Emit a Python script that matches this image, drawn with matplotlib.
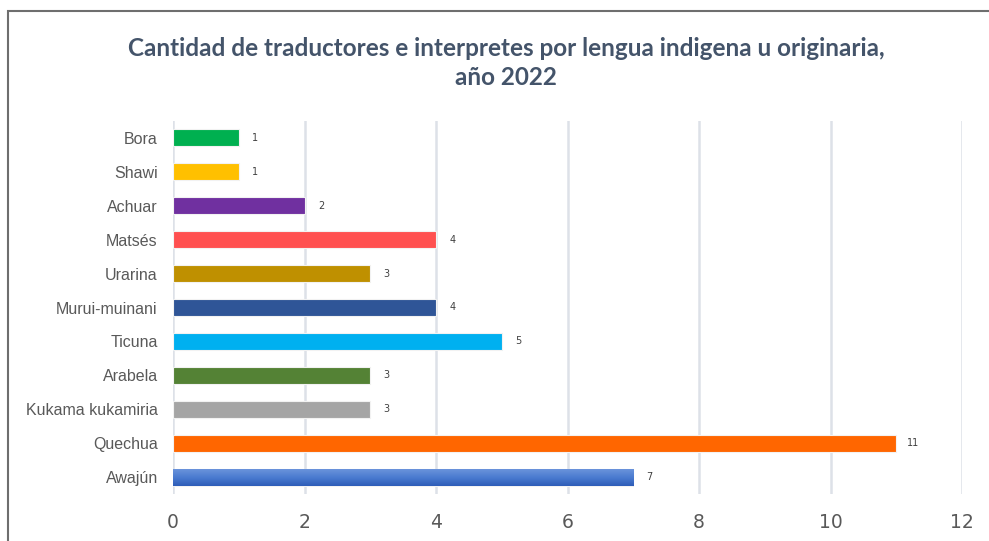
import matplotlib
matplotlib.use("Agg")
import matplotlib.pyplot as plt
from matplotlib.patches import Rectangle
from matplotlib.colors import LinearSegmentedColormap
import numpy as np

# data, top to bottom as in the chart
lenguas = ["Bora", "Shawi", "Achuar", "Matsés", "Urarina", "Murui-muinani",
           "Ticuna", "Arabela", "Kukama kukamiria", "Quechua", "Awajún"]
cantidad = [1, 1, 2, 4, 3, 4, 5, 3, 3, 11, 7]
colores = ["#00B050", "#FFC000", "#7030A0", "#FF5050", "#BF9000", "#2F5597",
           "#00B0F0", "#548235", "#A5A5A5", "#FF6600", "#4472C4"]
xticks = [0, 2, 4, 6, 8, 10, 12]

titulo = "Cantidad de traductores e interpretes por lengua indigena u originaria,\naño 2022"

fig = plt.figure(figsize=(9.89, 5.41), dpi=100)
ax = fig.add_axes([173 / 989, 1 - 494 / 541, 789 / 989, 373 / 541])

pos = np.arange(len(lenguas))[::-1]
bars = ax.barh(pos, cantidad, height=0.5, color=colores,
               edgecolor="#F2F2F2", linewidth=0.8, zorder=3)

# gradient for the last bar (Awajún)
b = bars[-1]
grad = np.linspace(0, 1, 64).reshape(-1, 1)
cm = LinearSegmentedColormap.from_list("az", ["#2E5DB8", "#4A7BD0", "#6A93DB"])
x0, y0 = b.get_x(), b.get_y()
im = ax.imshow(grad, cmap=cm, aspect="auto", origin="lower",
               extent=(x0, x0 + b.get_width(), y0, y0 + b.get_height()), zorder=3.5)
im.set_clip_path(b)

for p, v in zip(pos, cantidad):
    ax.text(v + 0.25, p, str(v), va="center", ha="center", fontsize=7,
            color="#404040", family="DejaVu Sans")

ax.set_xlim(0, 12)
ax.set_ylim(-0.5, len(lenguas) - 0.5)
ax.set_xticks(xticks)
ax.set_xticklabels([str(t) for t in xticks], fontsize=13.5, color="#595959",
                   family="DejaVu Sans")
ax.set_yticks(pos)
ax.set_yticklabels(lenguas, fontsize=11.5, color="#595959", family="Liberation Sans")
ax.tick_params(length=0)
ax.tick_params(axis="x", pad=14)
ax.tick_params(axis="y", pad=11)
ax.grid(axis="x", color="#DDE1E8", linewidth=1.8, zorder=0)
for s in ax.spines.values():
    s.set_visible(False)

fig.text(506 / 989, 1 - 63 / 541, titulo, ha="center", va="center",
         fontsize=17.5, fontweight="bold", color="#44546A", family="Lato",
         linespacing=1.35)

# chart border (cropped on right and bottom)
fig.patches.append(Rectangle((8 / 989, -0.1), 1.2, 1 - 11 / 541 + 0.1,
                             transform=fig.transFigure, fill=False,
                             edgecolor="#6E6E6E", linewidth=1.5))

fig.savefig("out.png", dpi=100)
